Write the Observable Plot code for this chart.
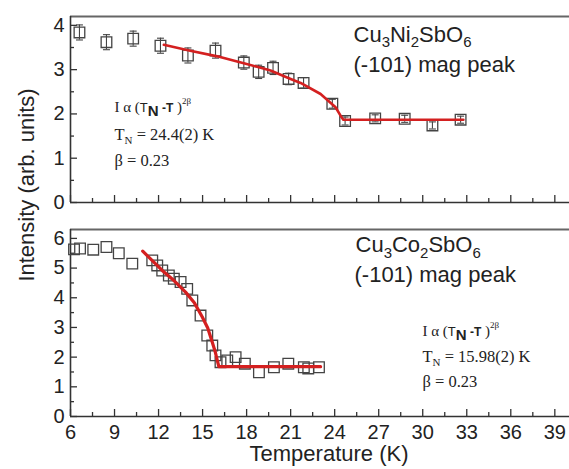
<!DOCTYPE html>
<html><head><meta charset="utf-8">
<script src="https://cdn.jsdelivr.net/npm/d3@7"></script>
<script src="https://cdn.jsdelivr.net/npm/@observablehq/plot@0.6"></script>
<style>
html,body{margin:0;padding:0;background:#fff;}
#chart{position:relative;width:569px;height:469px;overflow:hidden;background:#fff;}
#chart svg{position:absolute;left:0;}
#ylab{position:absolute;left:27px;top:185px;transform:translate(-50%,-50%) rotate(-90deg);white-space:nowrap;font-size:22px;font-family:"Liberation Sans",Arial,sans-serif;color:#222;}
</style></head><body>
<div id="chart"><div id="ylab">Intensity (arb. units)</div></div>
<script>
// ---------- data ----------
// Cu3Ni2SbO6 (top panel)
const niT   = [6.61, 8.45, 10.27, 12.13, 14.0, 15.88, 17.81, 18.82, 19.80, 20.86, 21.88, 23.84, 24.71, 26.76, 28.77, 30.66, 32.58];
const niI   = [3.84, 3.62, 3.70, 3.54, 3.32, 3.43, 3.16, 2.95, 3.04, 2.79, 2.70, 2.23, 1.84, 1.90, 1.89, 1.74, 1.87];
const niErr = [0.17, 0.17, 0.17, 0.17, 0.17, 0.17, 0.15, 0.15, 0.15, 0.13, 0.12, 0.10, 0.09, 0.08, 0.08, 0.08, 0.08];
const niFitT = [12.36, 14.0, 16.0, 18.0, 19.63, 21.0, 21.68, 23.04, 24.06, 24.4, 24.59, 32.77];
const niFitI = [3.56, 3.44, 3.30, 3.13, 2.98, 2.79, 2.70, 2.45, 2.15, 1.96, 1.87, 1.87];

// Cu3Co2SbO6 (bottom panel)
const coT = [6.24, 6.65, 7.55, 8.45, 9.29, 10.21,
             11.57, 11.91, 12.25, 12.70, 13.04, 13.50, 13.95, 14.30, 14.86, 15.32, 15.66, 15.88,
             16.22, 16.68, 17.25, 17.88, 18.84, 19.86, 20.84, 21.90, 22.20, 22.93];
const coI = [5.63, 5.66, 5.62, 5.71, 5.50, 5.15,
             5.26, 5.09, 4.92, 4.75, 4.64, 4.53, 4.30, 3.91, 3.40, 2.73, 2.39, 2.06,
             1.83, 1.89, 2.00, 1.78, 1.49, 1.66, 1.78, 1.66, 1.62, 1.66];
const coFitT = [10.92, 12.25, 13.05, 13.84, 14.45, 14.98, 15.35, 15.66, 15.85, 16.0, 16.11, 23.04];
const coFitI = [5.57, 4.92, 4.58, 4.19, 3.82, 3.35, 2.98, 2.50, 2.20, 1.89, 1.68, 1.68];

// axes
const xMajor = [6, 9, 12, 15, 18, 21, 24, 27, 30, 33, 36, 39];
const xMinor = [7.5, 10.5, 13.5, 16.5, 19.5, 22.5, 25.5, 28.5, 31.5, 34.5, 37.5];
const niYMajor = [0, 1, 2, 3, 4];
const niYMinor = [0.5, 1.5, 2.5, 3.5];
const coYMajor = [0, 1, 2, 3, 4, 5, 6];
const coYMinor = [0.5, 1.5, 2.5, 3.5, 4.5, 5.5];
const xTitle = "Temperature (K)";

// ---------- helpers ----------
const SANS = "'Liberation Sans', Arial, sans-serif";
const SERIF = "'Liberation Serif', 'Times New Roman', serif";
const W = 569, ML = 70;
const capSymbol = {draw(ctx) { ctx.moveTo(-3.5, 0); ctx.lineTo(3.5, 0); }};

function formula() {
  return {
    plain: "I α (TN -T )2β",
    segs: [
      {t: "I α (", family: SERIF, size: 15},
      {t: "T", family: SANS, size: 13},
      {t: "N", family: SANS, size: 15, weight: "bold", shift: 4},
      {t: " -T", family: SANS, size: 12, weight: "bold"},
      {t: " )", family: SERIF, size: 15},
      {t: "2β", family: SERIF, size: 9, shift: -8}
    ]
  };
}
function tnLine(v) {
  return {plain: "TN = " + v + " K", segs: [
    {t: "T", family: SERIF},
    {t: "N", family: SERIF, size: 11, shift: 4},
    {t: " = " + v + " K", family: SERIF}
  ]};
}
function nameLine(a) {
  return {plain: "Cu3" + a + "2SbO6", segs: [
    {t: "Cu"}, {t: "3", size: 15, shift: 5.5}, {t: a}, {t: "2", size: 15, shift: 5.5},
    {t: "SbO"}, {t: "6", size: 15, shift: 5.5}
  ]};
}

function rich(svg, items) {
  d3.select(svg).selectAll("text").each(function () {
    const it = items.find(d => d.segs && d.plain === this.textContent);
    if (!it) return;
    const t = d3.select(this); t.text(null);
    let shift = 0;
    for (const s of it.segs) {
      const sh = s.shift || 0;
      const ts = t.append("tspan").text(s.t);
      if (sh - shift) ts.attr("dy", sh - shift);
      shift = sh;
      if (s.size) ts.attr("font-size", s.size);
      if (s.family) ts.attr("font-family", s.family);
      if (s.weight) ts.attr("font-weight", s.weight);
    }
  });
}

function panel(o) {
  const fh = o.height - o.marginTop - o.marginBottom;
  const fw = W - ML;
  const pts = o.T.map((T, i) => ({T, I: o.I[i], e: o.err ? o.err[i] : 0}));
  const fit = o.fitT.map((T, i) => ({T, I: o.fitI[i]}));
  const marks = [
    Plot.ruleY([o.yDomain[1]], {stroke: "#666", strokeWidth: 2}),
    Plot.ruleX([6], {stroke: "#333", strokeWidth: 1.6}),
    Plot.ruleY([0], {stroke: "#333", strokeWidth: 1.6}),
    Plot.tickX(xMajor, {x: d => d, insetTop: fh - 7, stroke: "#333", strokeWidth: 1.3}),
    Plot.tickX(xMinor, {x: d => d, insetTop: fh - 4, stroke: "#333", strokeWidth: 1.3}),
    Plot.tickY(o.yMajor, {y: d => d, insetRight: fw - 7, stroke: "#333", strokeWidth: 1.3}),
    Plot.tickY(o.yMinor, {y: d => d, insetRight: fw - 4, stroke: "#333", strokeWidth: 1.3}),
    Plot.axisY({ticks: o.yMajor, tickFormat: d => String(d), tickSize: 0, tickPadding: 6, label: null, fontSize: 20, fontFamily: SANS}),
  ];
  if (o.showX) {
    marks.push(Plot.axisX({ticks: xMajor, tickFormat: d => String(d), tickSize: 0, tickPadding: 8, label: null, fontSize: 20, fontFamily: SANS}));
    marks.push(Plot.text([xTitle], {text: d => d, frameAnchor: "bottom", dx: 9, dy: 44, lineAnchor: "bottom", fontSize: 22, fontFamily: SANS, fill: "#222"}));
  }
  if (o.err) {
    marks.push(Plot.ruleX(pts, {x: "T", y1: d => d.I - d.e, y2: d => d.I + d.e, stroke: "#444", strokeWidth: 1.1}));
    marks.push(Plot.dot(pts, {x: "T", y: d => d.I - d.e, symbol: capSymbol, stroke: "#444", strokeWidth: 1.1}));
    marks.push(Plot.dot(pts, {x: "T", y: d => d.I + d.e, symbol: capSymbol, stroke: "#444", strokeWidth: 1.1}));
  }
  marks.push(Plot.dot(pts, {x: "T", y: "I", symbol: "square", r: 6, stroke: "#444", strokeWidth: 1.3, fill: "none"}));
  marks.push(Plot.line(fit, {x: "T", y: "I", stroke: "#d42020", strokeWidth: o.lw}));
  for (const a of o.labels) {
    marks.push(Plot.text([a.item], {text: d => d.plain, frameAnchor: "top-left", dx: a.dx, dy: a.dy,
      textAnchor: "start", lineAnchor: "bottom", fontSize: a.size, fontFamily: a.family, fill: "#222"}));
  }
  const svg = Plot.plot({
    width: W, height: o.height,
    marginLeft: ML, marginRight: 0, marginTop: o.marginTop, marginBottom: o.marginBottom,
    x: {domain: [6, 40], axis: o.showX ? undefined : null},
    y: {domain: o.yDomain},
    style: {fontFamily: SANS, color: "#222", background: "transparent", overflow: "visible"},
    marks
  });
  rich(svg, o.labels.map(a => a.item));
  svg.style.top = o.top + "px";
  document.getElementById("chart").appendChild(svg);
}

const niLabels = [
  {item: nameLine("Ni"), dx: 283, dy: 25, size: 22, family: SANS},
  {item: {plain: "(-101) mag peak"}, dx: 283, dy: 55.5, size: 22, family: SANS},
  {item: formula(), dx: 44, dy: 95, size: 15, family: SERIF},
  {item: tnLine("24.4(2)"), dx: 44, dy: 123, size: 16.5, family: SERIF},
  {item: {plain: "β = 0.23"}, dx: 44, dy: 149, size: 16.5, family: SERIF}
];
const coLabels = [
  {item: nameLine("Co"), dx: 285, dy: 22.5, size: 22, family: SANS},
  {item: {plain: "(-101) mag peak"}, dx: 284, dy: 52, size: 22, family: SANS},
  {item: formula(), dx: 352, dy: 106, size: 15, family: SERIF},
  {item: tnLine("15.98(2)"), dx: 352, dy: 132.5, size: 16.5, family: SERIF},
  {item: {plain: "β = 0.23"}, dx: 352, dy: 157.5, size: 16.5, family: SERIF}
];

panel({top: 0, height: 210, marginTop: 16, marginBottom: 8, yDomain: [0, 4.2],
  yMajor: niYMajor, yMinor: niYMinor, T: niT, I: niI, err: niErr,
  fitT: niFitT, fitI: niFitI, lw: 2.6, showX: false, labels: niLabels});
panel({top: 210, height: 259, marginTop: 19, marginBottom: 53, yDomain: [0, 6.3],
  yMajor: coYMajor, yMinor: coYMinor, T: coT, I: coI, err: null,
  fitT: coFitT, fitI: coFitI, lw: 3.2, showX: true, labels: coLabels});
</script>
</body></html>
